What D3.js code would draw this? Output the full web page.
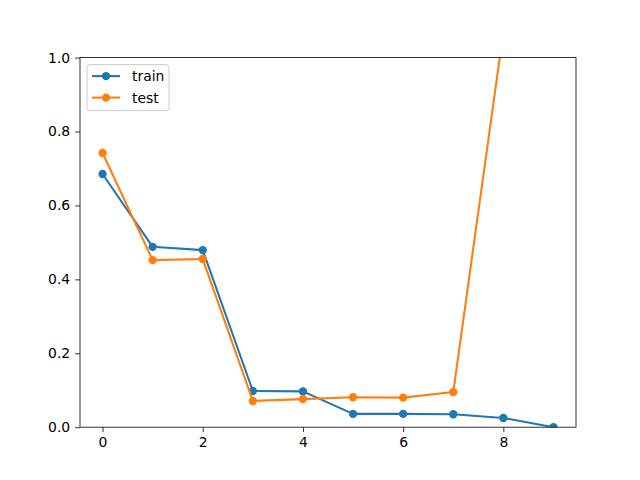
<!DOCTYPE html>
<html>
<head>
<meta charset="utf-8">
<script src="https://cdn.jsdelivr.net/npm/d3@7"></script>
<style>
  body { margin: 0; background: #fff; }
  text { font-family: "DejaVu Sans", sans-serif; }
</style>
</head>
<body>
<div id="chart"></div>
<script>
// Values
const epochs = [0, 1, 2, 3, 4, 5, 6, 7, 8, 9];
const trainValues = [0.685, 0.488, 0.479, 0.098, 0.097, 0.036, 0.036, 0.035, 0.025, 0.0];
const testValues = [0.742, 0.452, 0.455, 0.071, 0.076, 0.081, 0.080, 0.095, 1.07, 1.3];
const xTicks = [0, 2, 4, 6, 8];
const yTicks = [0, 0.2, 0.4, 0.6, 0.8, 1.0];
const seriesNames = ['train', 'test'];
const seriesColors = ['#1f77b4', '#ff7f0e'];

const width = 640, height = 480;
const margin = { top: 57.6, right: 64, bottom: 52.8, left: 80 };
const innerWidth = width - margin.left - margin.right;
const innerHeight = height - margin.top - margin.bottom;

const svg = d3.select('#chart')
  .append('svg')
  .attr('width', width)
  .attr('height', height);

const g = svg.append('g')
  .attr('transform', `translate(${margin.left},${margin.top})`);

const xScale = d3.scaleLinear()
  .domain([-0.45, 9.45])
  .range([0, innerWidth]);

const yScale = d3.scaleLinear()
  .domain([0, 1])
  .range([innerHeight, 0]);

svg.append('defs').append('clipPath')
  .attr('id', 'plot-clip')
  .append('rect')
  .attr('width', innerWidth)
  .attr('height', innerHeight);

// Axes
const xAxis = g.append('g')
  .attr('transform', `translate(0,${innerHeight})`)
  .call(d3.axisBottom(xScale).tickValues(xTicks).tickFormat(d3.format('d')).tickSize(4.9).tickPadding(4.9));

const yAxis = g.append('g')
  .call(d3.axisLeft(yScale).tickValues(yTicks).tickFormat(d3.format('.1f')).tickSize(4.9).tickPadding(4.9));

[xAxis, yAxis].forEach(a => {
  a.select('.domain').remove();
  a.selectAll('line').attr('stroke', '#000').attr('stroke-width', 0.8);
  a.selectAll('text').style('font-size', '13.9px').attr('fill', '#000')
    .style('font-family', '"DejaVu Sans", sans-serif');
});

// Lines and markers
const plot = g.append('g').attr('clip-path', 'url(#plot-clip)');
const line = d3.line()
  .x((d, i) => xScale(epochs[i]))
  .y(d => yScale(d));

[trainValues, testValues].forEach((vals, s) => {
  plot.append('path')
    .datum(vals)
    .attr('fill', 'none')
    .attr('stroke', seriesColors[s])
    .attr('stroke-width', 2.08)
    .attr('stroke-linejoin', 'round')
    .attr('d', line);

  plot.selectAll(null)
    .data(vals)
    .enter()
    .append('circle')
    .attr('cx', (d, i) => xScale(epochs[i]))
    .attr('cy', d => yScale(d))
    .attr('r', 4.17)
    .attr('fill', seriesColors[s]);
});

// Frame
g.append('rect')
  .attr('width', innerWidth)
  .attr('height', innerHeight)
  .attr('fill', 'none')
  .attr('stroke', '#000')
  .attr('stroke-width', 0.8);

// Legend
const legend = g.append('g')
  .attr('transform', 'translate(7,7)');

legend.append('rect')
  .attr('width', 82)
  .attr('height', 46)
  .attr('rx', 3)
  .attr('fill', '#fff')
  .attr('fill-opacity', 0.8)
  .attr('stroke', '#ccc')
  .attr('stroke-width', 1);

seriesNames.forEach((name, i) => {
  const row = legend.append('g')
    .attr('transform', `translate(0, ${11.5 + i * 21.5})`);
  row.append('line')
    .attr('x1', 5).attr('x2', 33)
    .attr('stroke', seriesColors[i])
    .attr('stroke-width', 2.08);
  row.append('circle')
    .attr('cx', 19)
    .attr('r', 4.17)
    .attr('fill', seriesColors[i]);
  row.append('text')
    .attr('x', 45)
    .attr('y', 5)
    .style('font-size', '13.9px')
    .text(name);
});
</script>
</body>
</html>
